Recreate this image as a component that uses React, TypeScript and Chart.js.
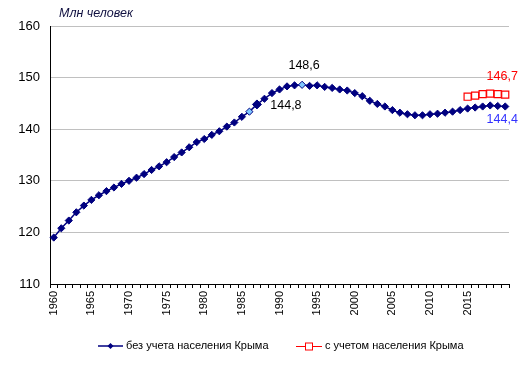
import React, { useEffect, useRef } from "react";
import { Chart, registerables } from "chart.js";

Chart.register(...registerables);

const FONT = "'Liberation Sans', Arial, sans-serif";

const years: number[] = [
  1960, 1961, 1962, 1963, 1964, 1965, 1966, 1967, 1968, 1969,
  1970, 1971, 1972, 1973, 1974, 1975, 1976, 1977, 1978, 1979,
  1980, 1981, 1982, 1983, 1984, 1985, 1986, 1987, 1988, 1989,
  1990, 1991, 1992, 1993, 1994, 1995, 1996, 1997, 1998, 1999,
  2000, 2001, 2002, 2003, 2004, 2005, 2006, 2007, 2008, 2009,
  2010, 2011, 2012, 2013, 2014, 2015, 2016, 2017, 2018, 2019,
  2020,
];

const tickLabels: string[] = ["1960", "1965", "1970", "1975", "1980", "1985", "1990", "1995", "2000", "2005", "2010", "2015"];

const withoutCrimea: number[] = [
  119.0, 120.8, 122.3, 123.9, 125.2, 126.3, 127.2, 128.0, 128.7, 129.4,
  130.0, 130.6, 131.3, 132.1, 132.8, 133.6, 134.6, 135.5, 136.5, 137.5,
  138.1, 138.9, 139.6, 140.5, 141.3, 142.4, 143.4, 144.8, 145.9, 147.0,
  147.7, 148.3, 148.5, 148.6, 148.4, 148.5, 148.2, 148.0, 147.7, 147.5,
  147.0, 146.4, 145.5, 144.9, 144.4, 143.7, 143.2, 142.9, 142.7, 142.7,
  142.9, 143.0, 143.2, 143.4, 143.7, 144.0, 144.2, 144.4, 144.6, 144.5,
  144.4,
];

const crimeaYears: number[] = [2015, 2016, 2017, 2018, 2019, 2020];
const withCrimea: number[] = [146.3, 146.5, 146.8, 146.9, 146.8, 146.7];

const highlightYears: number[] = [1986, 1993];

const seriesNames: string[] = ["без учета населения Крыма", "с учетом населения Крыма"];
const yUnit = "Млн человек";

// annotation labels: [series index, year, text, color, dx, dy]
const annotations: [number, number, string, string, number, number][] = [
  [0, 1993, "148,6", "#000000", 2, -19],
  [0, 1987, "144,8", "#000000", 29, 1],
  [1, 2020, "146,7", "#ff0000", -3, -18],
  [0, 2020, "144,4", "#3333ff", -3, 13],
];

const NAVY = "#000080";
const LIGHT = "#80c8ff";

export default function App() {
  const ref = useRef<HTMLCanvasElement | null>(null);

  useEffect(() => {
    if (!ref.current) return;
    const crimeaData = years.map((y) => {
      const i = crimeaYears.indexOf(y);
      return i >= 0 ? withCrimea[i] : null;
    });
    const bg = years.map((y) => (highlightYears.includes(y) ? LIGHT : NAVY));
    const radii = years.map((y) => (y === 1987 ? 4.5 : 3.6));

    const overlay = {
      id: "overlay",
      afterDraw(chart: any) {
        const ctx = chart.ctx;
        ctx.save();
        // unit title
        ctx.font = `italic 12.5px ${FONT}`;
        ctx.fillStyle = "#101040";
        ctx.textAlign = "left";
        ctx.textBaseline = "middle";
        ctx.fillText(yUnit, 59, 14);

        // annotations
        ctx.font = `12.5px ${FONT}`;
        ctx.textAlign = "center";
        for (const [ds, yr, text, color, dx, dy] of annotations) {
          const meta = chart.getDatasetMeta(ds);
          const idx = years.indexOf(yr);
          const pt = meta.data[idx];
          if (!pt) continue;
          ctx.fillStyle = color;
          ctx.fillText(text, pt.x + dx, pt.y + dy);
        }

        // legend
        const ly = 346;
        ctx.lineWidth = 1.5;
        ctx.strokeStyle = NAVY;
        ctx.beginPath();
        ctx.moveTo(98, ly);
        ctx.lineTo(123, ly);
        ctx.stroke();
        ctx.fillStyle = NAVY;
        ctx.beginPath();
        ctx.moveTo(110.5, ly - 3);
        ctx.lineTo(113.5, ly);
        ctx.lineTo(110.5, ly + 3);
        ctx.lineTo(107.5, ly);
        ctx.closePath();
        ctx.fill();

        ctx.lineWidth = 1;
        ctx.strokeStyle = "#ff0000";
        ctx.beginPath();
        ctx.moveTo(296, ly + 0.5);
        ctx.lineTo(322, ly + 0.5);
        ctx.stroke();
        ctx.fillStyle = "#ffffff";
        ctx.fillRect(305.5, ly - 3, 7, 7);
        ctx.strokeRect(305.5, ly - 3, 7, 7);

        ctx.font = `11px ${FONT}`;
        ctx.fillStyle = "#000000";
        ctx.textAlign = "left";
        ctx.fillText(seriesNames[0], 126, ly);
        ctx.fillText(seriesNames[1], 325, ly);
        ctx.restore();
      },
    };

    const chart = new Chart(ref.current, {
      type: "line",
      data: {
        labels: years.map(String),
        datasets: [
          {
            label: seriesNames[0],
            data: withoutCrimea,
            borderColor: NAVY,
            borderWidth: 1.5,
            pointStyle: "rectRot",
            pointRadius: radii,
            pointBackgroundColor: bg,
            pointBorderColor: NAVY,
            pointBorderWidth: 1,
            tension: 0,
          },
          {
            label: seriesNames[1],
            data: crimeaData,
            borderColor: "#ff0000",
            borderWidth: 1,
            pointStyle: "rect",
            pointRadius: 5,
            pointBackgroundColor: "#ffffff",
            pointBorderColor: "#ff0000",
            pointBorderWidth: 1.2,
            spanGaps: false,
            tension: 0,
          },
        ],
      },
      options: {
        responsive: false,
        animation: false,
        devicePixelRatio: 1,
        layout: { padding: { top: 26, right: 15, left: 0, bottom: 0 } },
        plugins: {
          legend: { display: false },
          tooltip: { enabled: false },
          title: { display: false },
        },
        scales: {
          x: {
            type: "category",
            offset: true,
            grid: {
              display: true,
              drawOnChartArea: false,
              drawTicks: true,
              tickLength: 4,
              color: "#000000",
              offset: true,
            },
            border: { display: true, color: "#000000", width: 1 },
            ticks: {
              autoSkip: false,
              maxRotation: 90,
              minRotation: 90,
              padding: 3,
              color: "#000000",
              font: { family: FONT, size: 11 },
              callback: (_v: any, i: number) => (tickLabels.includes(String(years[i])) ? String(years[i]) : ""),
            },
            afterFit: (s: any) => {
              s.height = 89;
            },
          },
          y: {
            min: 110,
            max: 160,
            ticks: {
              stepSize: 10,
              padding: 10,
              color: "#000000",
              font: { family: FONT, size: 13 },
            },
            grid: { color: "#c0c0c0", drawTicks: false, lineWidth: 1 },
            border: { display: true, color: "#000000", width: 1 },
            afterFit: (s: any) => {
              s.width = 50;
            },
          },
        },
      },
      plugins: [overlay],
    });
    return () => chart.destroy();
  }, []);

  return (
    <div style={{ position: "fixed", left: 0, top: 0, width: 524, height: 373, background: "#fff" }}>
      <canvas ref={ref} width={524} height={373} style={{ width: 524, height: 373 }} />
    </div>
  );
}
